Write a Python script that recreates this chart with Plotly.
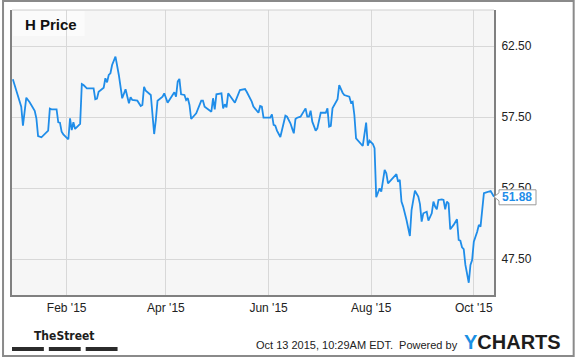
import plotly.graph_objects as go

# ---- data ----
dates = [
    "2014-12-31", "2015-01-01", "2015-01-03", "2015-01-05", "2015-01-06", "2015-01-07", "2015-01-08",
    "2015-01-10", "2015-01-11", "2015-01-13", "2015-01-14", "2015-01-15", "2015-01-17", "2015-01-20",
    "2015-01-21", "2015-01-22", "2015-01-23", "2015-01-26", "2015-01-27", "2015-01-28", "2015-01-29",
    "2015-01-30", "2015-02-01", "2015-02-02", "2015-02-03", "2015-02-04", "2015-02-05", "2015-02-06",
    "2015-02-09", "2015-02-10", "2015-02-11", "2015-02-13", "2015-02-17", "2015-02-18", "2015-02-19",
    "2015-02-20", "2015-02-23", "2015-02-24", "2015-02-25", "2015-02-26", "2015-02-27", "2015-02-28",
    "2015-03-02", "2015-03-04", "2015-03-06", "2015-03-08", "2015-03-10", "2015-03-11", "2015-03-12",
    "2015-03-13", "2015-03-15", "2015-03-17", "2015-03-18", "2015-03-19", "2015-03-20", "2015-03-23",
    "2015-03-24", "2015-03-25", "2015-03-26", "2015-03-27", "2015-03-30", "2015-03-31", "2015-04-02",
    "2015-04-04", "2015-04-06", "2015-04-07", "2015-04-08", "2015-04-09", "2015-04-10", "2015-04-12",
    "2015-04-13", "2015-04-14", "2015-04-15", "2015-04-16", "2015-04-19", "2015-04-22", "2015-04-23",
    "2015-04-24", "2015-04-28", "2015-04-29", "2015-04-30", "2015-05-01", "2015-05-03", "2015-05-04",
    "2015-05-05", "2015-05-06", "2015-05-07", "2015-05-08", "2015-05-12", "2015-05-13", "2015-05-15",
    "2015-05-18", "2015-05-19", "2015-05-22", "2015-05-23", "2015-05-26", "2015-05-27", "2015-05-28",
    "2015-05-29", "2015-05-31", "2015-06-02", "2015-06-03", "2015-06-04", "2015-06-05", "2015-06-06",
    "2015-06-08", "2015-06-10", "2015-06-11", "2015-06-12", "2015-06-14", "2015-06-15", "2015-06-16",
    "2015-06-17", "2015-06-18", "2015-06-20", "2015-06-21", "2015-06-23", "2015-06-24", "2015-06-25",
    "2015-06-26", "2015-06-27", "2015-06-29", "2015-06-30", "2015-07-02", "2015-07-05", "2015-07-06",
    "2015-07-07", "2015-07-08", "2015-07-09", "2015-07-12", "2015-07-13", "2015-07-15", "2015-07-16",
    "2015-07-19", "2015-07-20", "2015-07-21", "2015-07-22", "2015-07-23", "2015-07-25", "2015-07-27",
    "2015-07-29", "2015-07-30", "2015-07-31", "2015-08-01", "2015-08-02", "2015-08-03", "2015-08-04",
    "2015-08-06", "2015-08-07", "2015-08-09", "2015-08-10", "2015-08-11", "2015-08-13", "2015-08-15",
    "2015-08-16", "2015-08-17", "2015-08-18", "2015-08-19", "2015-08-20", "2015-08-22", "2015-08-24",
    "2015-08-25", "2015-08-26", "2015-08-27", "2015-08-29", "2015-08-30", "2015-08-31", "2015-09-01",
    "2015-09-03", "2015-09-04", "2015-09-06", "2015-09-07", "2015-09-08", "2015-09-09", "2015-09-10",
    "2015-09-12", "2015-09-13", "2015-09-14", "2015-09-15", "2015-09-16", "2015-09-17", "2015-09-19",
    "2015-09-21", "2015-09-22", "2015-09-23", "2015-09-24", "2015-09-25", "2015-09-26", "2015-09-28",
    "2015-09-29", "2015-09-30", "2015-10-01", "2015-10-03", "2015-10-04", "2015-10-05", "2015-10-07",
    "2015-10-08", "2015-10-09", "2015-10-11", "2015-10-13",
]
prices = [
    60.16, 59.75, 59.05, 58.23, 56.89, 57.87, 58.86,
    58.54, 58.35, 57.94, 57.41, 56.16, 56.07, 56.40,
    56.54, 58.09, 58.04, 58.04, 57.13, 57.10, 56.47,
    56.28, 56.00, 55.93, 57.41, 56.58, 57.13, 56.66,
    57.01, 59.82, 59.75, 59.52, 59.52, 58.75, 58.79,
    59.28, 59.56, 60.23, 59.94, 60.46, 60.58, 61.16,
    61.75, 60.46, 58.82, 59.45, 58.47, 58.89, 58.70,
    58.70, 58.65, 58.28, 58.35, 59.63, 59.35, 59.05,
    57.76, 56.30, 57.29, 58.65, 58.93, 59.17, 58.51,
    58.89, 59.24, 58.93, 59.99, 60.18, 59.10, 59.05,
    58.70, 58.82, 58.35, 57.36, 57.76, 58.65, 58.65,
    58.23, 57.87, 58.82, 58.04, 59.10, 59.17, 59.17,
    58.11, 58.40, 58.18, 59.17, 58.51, 58.77, 59.40,
    59.47, 59.28, 58.58, 58.23, 57.80, 58.28, 58.23,
    57.45, 57.45, 57.45, 57.69, 56.94, 56.89, 56.54,
    56.09, 57.06, 57.59, 57.52, 57.06, 56.70, 56.35,
    57.36, 57.45, 57.52, 57.71, 58.11, 57.52, 57.52,
    57.94, 57.17, 56.54, 56.70, 57.80, 57.80, 58.11,
    56.82, 56.87, 58.11, 58.75, 59.75, 59.21, 59.05,
    58.93, 58.51, 58.58, 57.64, 56.00, 55.76, 55.46,
    57.10, 55.48, 55.83, 55.72, 55.60, 55.30, 51.85,
    52.48, 52.24, 53.77, 53.54, 52.83, 53.11, 53.35,
    53.47, 52.94, 53.07, 51.54, 51.19, 50.25, 49.12,
    50.95, 51.78, 52.31, 51.89, 51.37, 50.13, 50.72,
    50.83, 50.20, 50.72, 51.54, 51.19, 51.00, 51.66,
    51.70, 51.66, 51.00, 51.54, 51.42, 49.59, 49.90,
    50.30, 48.84, 48.79, 48.33, 48.19, 47.08, 45.83,
    47.08, 47.43, 48.72, 49.42, 49.90, 49.78, 52.13,
    52.17, 52.20, 52.29, 51.88,
]
y_ticks = [47.5, 52.5, 57.5, 62.5]
x_range = ["2014-12-30 12:00", "2015-10-13"]
y_range = [44.965, 65.035]
title_text = "H Price"
footer_text = "Oct 13 2015, 10:29AM EDT. &nbsp;Powered by"
brand_left = "TheStreet"

# ---- layout geometry / styles ----
W, H = 575, 358
ML, MR, MT, MB = 10, 81, 10, 63
PW = W - ML - MR
PH = H - MT - MB
BLUE = "#1f8de9"
GRID = "#d8d8d8"
FRAME = "#808080"
FONT = "Arial, 'Liberation Sans', sans-serif"


def px(x):
    return (x - ML) / PW


def py(y):
    return (H - MB - y) / PH


fig = go.Figure(
    go.Scatter(x=dates, y=prices, mode="lines",
               line=dict(color=BLUE, width=1.8), hoverinfo="skip")
)

fig.update_layout(
    width=W, height=H,
    margin=dict(l=ML, r=MR, t=MT, b=MB),
    paper_bgcolor="white", plot_bgcolor="#f6f6f6",
    showlegend=False,
    font=dict(family=FONT, size=12, color="#222222"),
)
fig.update_xaxes(
    type="date", range=x_range, tick0="2015-02-01", dtick="M2",
    tickformat="%b '%y", showgrid=True, gridcolor=GRID, gridwidth=1,
    showline=True, linecolor=FRAME, linewidth=2, ticks="",
    zeroline=False, fixedrange=True, ticklabelstandoff=1,
    tickfont=dict(size=12, color="#222222"),
)
fig.update_yaxes(
    range=y_range, side="right", tickvals=y_ticks, tickformat=".2f",
    showgrid=True, gridcolor=GRID, gridwidth=1,
    showline=True, linecolor=FRAME, linewidth=2, mirror=True, ticks="",
    zeroline=False, fixedrange=True, ticklabelstandoff=3,
    tickfont=dict(size=12, color="#222222"),
)

last_val = prices[-1]
last_frac = (last_val - y_range[0]) / (y_range[1] - y_range[0])

shapes = [
    # top frame line (light)
    dict(type="line", xref="paper", yref="paper", x0=0, x1=1, y0=1, y1=1,
         line=dict(color="#cfcfcf", width=1), layer="above"),
    # title box
    dict(type="rect", xref="paper", yref="paper", x0=px(11), x1=px(83),
         y0=py(36), y1=py(11), fillcolor="#fbfbfb", line=dict(width=0),
         layer="below"),
    # outer border
    dict(type="rect", xref="paper", yref="paper", x0=px(1), x1=px(574),
         y0=py(356), y1=py(1), line=dict(color="#8a8a8a", width=2),
         fillcolor="rgba(0,0,0,0)", layer="above"),
    # last value bubble
    dict(type="path", xref="paper", yref="paper", xsizemode="pixel",
         ysizemode="pixel", xanchor=1, yanchor=last_frac,
         path="M0,0 L5,4 L5,7 L42,7 L42,-8 L5,-8 L5,-4 Z",
         fillcolor="white", line=dict(color="#9a9a9a", width=1),
         layer="above"),
]
# TheStreet bars
for a, b in [(10, 42), (47, 79), (84, 116)]:
    shapes.append(dict(type="rect", xref="paper", yref="paper",
                       x0=px(a), x1=px(b), y0=py(351), y1=py(347),
                       fillcolor="#2b2b2b", line=dict(width=0), layer="above"))
fig.update_layout(shapes=shapes)

annotations = [
    dict(text=f"<b>{title_text}</b>", xref="paper", yref="paper",
         x=px(21), y=py(24), xanchor="left", yanchor="middle",
         showarrow=False, font=dict(size=15, color="#111111", family=FONT)),
    dict(text=f"<b>{last_val:.2f}</b>", xref="paper", yref="y",
         x=1, y=last_val, xanchor="left", yanchor="middle", xshift=6,
         showarrow=False, font=dict(size=12, color=BLUE, family=FONT)),
    dict(text=footer_text, xref="paper", yref="paper",
         x=px(460), y=py(345), xanchor="right", yanchor="middle",
         showarrow=False, font=dict(size=11, color="#222222", family=FONT)),
    dict(text="<b><span style='color:#1a90e3'>Y</span>CHARTS</b>",
         xref="paper", yref="paper", x=px(462), y=py(341.5),
         xanchor="left", yanchor="middle", showarrow=False,
         font=dict(size=20, color="#1d1d1d", family=FONT)),
    dict(text=f"<b>{brand_left}</b>", xref="paper", yref="paper",
         x=px(62), y=py(336), xanchor="center", yanchor="middle",
         showarrow=False,
         font=dict(size=12, color="#1d1d1d",
                   family="'Liberation Sans Narrow', 'Arial Narrow', 'DejaVu Sans Condensed', sans-serif")),
]
fig.update_layout(annotations=annotations)

fig.write_html("out.html", config={"displayModeBar": False})
